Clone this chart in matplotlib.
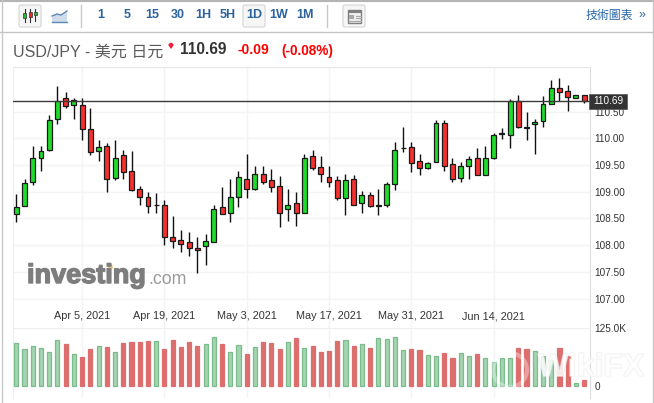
import matplotlib
matplotlib.use("Agg")
import matplotlib.pyplot as plt
import matplotlib.patheffects as pe
from matplotlib.patches import Rectangle, FancyBboxPatch, Polygon, Circle

W, H = 654, 403

opens = [108.58, 108.73, 109.18, 109.64, 109.79, 110.36, 110.75, 110.62, 110.62, 110.17,
         109.76, 109.85, 109.25, 109.68, 109.38, 109.06, 108.91, 108.76, 108.76, 108.15,
         108.09, 108.05, 107.94, 107.98, 108.05, 108.72, 108.60, 108.91, 109.24, 109.06,
         109.34, 109.21, 109.10, 108.67, 108.78, 108.60, 109.66, 109.46, 109.27, 109.21,
         108.88, 109.23, 108.78, 108.93, 108.73, 108.76, 109.14, 109.81, 109.83, 109.57,
         109.45, 109.55, 110.28, 109.51, 109.25, 109.49, 109.63, 109.31, 109.64, 110.08,
         110.07, 110.69, 110.21, 110.27, 110.32, 110.64, 110.95, 110.88, 110.75, 110.82]
highs = [108.96, 109.24, 109.86, 109.86, 110.43, 110.98, 110.87, 110.75, 110.75, 110.56,
         109.96, 109.91, 109.96, 109.78, 109.76, 109.10, 108.99, 108.97, 108.84, 108.54,
         108.28, 108.24, 108.15, 108.20, 108.76, 109.08, 109.23, 109.38, 109.71, 109.49,
         109.48, 109.42, 109.29, 109.06, 108.99, 109.70, 109.79, 109.66, 109.49, 109.29,
         109.34, 109.31, 109.01, 108.99, 109.06, 109.18, 109.93, 110.21, 109.94, 109.70,
         109.55, 110.34, 110.34, 109.64, 109.55, 109.66, 109.81, 109.85, 110.09, 110.19,
         110.73, 110.82, 110.49, 110.36, 110.80, 111.10, 111.12, 110.99, 110.82, 110.82]
lows = [108.44, 108.73, 109.13, 109.38, 109.77, 110.27, 110.56, 110.37, 109.97, 109.68,
        109.58, 109.00, 109.21, 109.24, 109.02, 108.76, 108.61, 108.61, 108.01, 107.95,
        107.88, 107.80, 107.47, 107.63, 108.05, 108.58, 108.44, 108.72, 108.89, 109.04,
        109.15, 109.00, 108.33, 108.46, 108.35, 108.60, 109.41, 109.19, 109.08, 108.84,
        108.57, 108.75, 108.61, 108.71, 108.57, 108.72, 109.04, 109.75, 109.36, 109.32,
        109.43, 109.55, 109.38, 109.19, 109.19, 109.23, 109.31, 109.31, 109.61, 109.99,
        109.81, 110.19, 109.96, 109.71, 110.22, 110.64, 110.69, 110.51, 110.75, 110.67]
closes = [108.71, 109.16, 109.64, 109.77, 110.34, 110.69, 110.60, 110.71, 110.17, 109.74,
          109.83, 109.23, 109.64, 109.36, 109.04, 108.90, 108.73, 108.76, 108.15, 108.07,
          108.03, 107.94, 107.90, 108.07, 108.67, 108.58, 108.90, 109.27, 109.06, 109.33,
          109.18, 109.08, 108.60, 108.76, 108.60, 109.64, 109.44, 109.34, 109.18, 108.88,
          109.21, 108.75, 108.93, 108.73, 108.75, 109.14, 109.79, 109.81, 109.53, 109.44,
          109.53, 110.28, 109.49, 109.23, 109.49, 109.61, 109.31, 109.64, 110.06, 110.09,
          110.69, 110.21, 110.19, 110.30, 110.64, 110.94, 110.86, 110.77, 110.82, 110.69]
volumes = [91.8, 78.8, 85.3, 80.9, 72.3, 98.3, 89.6, 67.9, 61.4, 78.8,
           85.3, 83.1, 72.3, 91.8, 93.9, 93.9, 96.1, 96.1, 78.8, 98.3,
           83.1, 93.9, 85.3, 89.6, 104.8, 89.6, 72.3, 87.4, 67.9, 83.1,
           93.9, 91.8, 78.8, 93.9, 102.6, 80.9, 85.3, 72.3, 74.4, 96.1,
           98.3, 85.3, 89.6, 80.9, 102.6, 100.4, 104.8, 76.6, 78.8, 76.6,
           65.7, 63.6, 70.1, 59.2, 70.1, 63.6, 67.9, 59.2, 50.6, 59.2,
           59.2, 80.9, 78.8, 74.4, 63.6, 54.9, 80.9, 63.6, 5.1, 11.6]

last_price = 110.69
price_ticks = [107.00, 107.50, 108.00, 108.50, 109.00, 109.50, 110.00, 110.50]
date_pos = [8, 18, 28, 38, 48, 58]
date_labels = ["Apr 5, 2021", "Apr 19, 2021", "May 3, 2021", "May 17, 2021", "May 31, 2021", "Jun 14, 2021"]
periods = ["1", "5", "15", "30", "1H", "5H", "1D", "1W", "1M"]
period_x = [101, 127, 152, 178, 203, 228, 254, 279, 305]

GREEN = "#1fdc2a"
RED = "#f72f2f"
FONT = ["Liberation Sans", "Noto Sans CJK TC"]

plt.rcParams["font.family"] = FONT

fig = plt.figure(figsize=(W / 100, H / 100), dpi=100)

# page furniture, in pixels
bg = fig.add_axes([0, 0, 1, 1], zorder=0)
bg.set_xlim(0, W)
bg.set_ylim(H, 0)
bg.axis("off")


def ax_rect(x0, y0, x1, y1):
    return [x0 / W, 1 - y1 / H, (x1 - x0) / W, (y1 - y0) / H]


def button(x0, x1):
    bg.add_patch(FancyBboxPatch((x0 + 1, 6), x1 - x0 - 2, 20, boxstyle="round,pad=1,rounding_size=2",
                                fc="#f6f6f6", ec="#dcdcdc", lw=1))


bg.plot([0, W], [0.5, 0.5], color="#b4b4b4", lw=1.5)
bg.plot([0, 652], [31.5, 31.5], color="#c4c4c4", lw=1)
bg.plot([1.5, 1.5], [0, H], color="#c8c8c8", lw=1)
bg.plot([652.5, 652.5], [0, H], color="#c8c8c8", lw=1)
for x in [80.5, 326.5]:
    bg.plot([x, x], [5, 27], color="#c8c8c8", lw=1)

button(19, 41)
button(243, 265)
button(343, 365)

# candle icon
for x, y0, y1, b0, b1, c in [(24.5, 9, 22, 13, 18, "#1fc02a"), (30, 9, 22, 12, 17, "#e82c2c"), (35, 9, 21, 12, 15, "#1fc02a")]:
    bg.plot([x, x], [y0, y1], color="#333333", lw=0.8)
    bg.add_patch(Rectangle((x - 1.5, b0), 3, b1 - b0, fc=c, ec="#333333", lw=0.5, zorder=3))

# line icon
bg.add_patch(Polygon([(52, 16), (57, 14), (61, 15), (67, 11), (67, 22), (52, 22)], fc="#cfdcea", ec="none"))
bg.plot([52, 57, 61, 67], [16, 14, 15, 11], color="#5c88b5", lw=1)
bg.plot([52, 67], [22, 22], color="#5c88b5", lw=1)

# layout icon
bg.add_patch(Rectangle((348, 10), 13, 13, fc="#eeeeee", ec="#808080", lw=1))
bg.add_patch(Rectangle((349, 10), 12, 3, fc="#808080", ec="none"))
bg.add_patch(Rectangle((349, 15), 5, 4, fc="#a8a8a8", ec="none"))
for y in [15.5, 18, 20.5]:
    bg.plot([356, 361], [y, y], color="#a8a8a8", lw=0.8)
bg.plot([349, 361], [21, 21], color="#a8a8a8", lw=0.8)

for label, x in zip(periods, period_x):
    bg.text(x, 15.5, label, ha="center", va="center", fontsize=9, color="#2b639c", fontweight="bold")

bg.text(586, 15.5, "技術圖表", ha="left", va="center", fontsize=8.6, color="#2a66a8")
bg.text(642, 15, "»", ha="center", va="center", fontsize=9, color="#2a66a8")

# title row
bg.text(13, 52, "USD/JPY - 美元 日元", ha="left", va="center", fontsize=11.5, color="#5a5a5a")
bg.add_patch(Polygon([(168.5, 44), (171, 42.5), (173.5, 44), (173.5, 45.5), (171, 49), (168.5, 45.5)], fc="#f0203a", ec="none"))
bg.text(180, 50, "110.69", ha="left", va="center", fontsize=11.2, color="#333333", fontweight="bold")
bg.text(238, 50.5, "-0.09", ha="left", va="center", fontsize=10, color="#ff0000", fontweight="bold")
bg.text(281, 50.5, "(-0.08%)", ha="left", va="center", fontsize=9.8, color="#ff0000", fontweight="bold")

# price panel
ax = fig.add_axes(ax_rect(13, 67, 589.5, 328), zorder=2)
ax.patch.set_alpha(0)
ax.set_xlim(-0.4, 69.65)
ax.set_ylim(106.448, 111.335)
x_pos = list(range(len(opens)))
up = [c >= o for o, c in zip(opens, closes)]
ax.vlines(x_pos, lows, highs, color="#111111", lw=1, zorder=3)
ax.bar(x_pos, [abs(c - o) for o, c in zip(opens, closes)], bottom=[min(o, c) for o, c in zip(opens, closes)],
       width=0.6, color=[GREEN if u else RED for u in up], edgecolor="#1a1a1a", lw=0.9, zorder=4)
ax.axhline(last_price, color="#3a3a3a", lw=1, zorder=5)
ax.set_yticks(price_ticks)
ax.set_yticklabels(["%.2f" % p for p in price_ticks])
ax.yaxis.tick_right()
ax.set_xticks(date_pos)
ax.set_xticklabels(date_labels)
ax.tick_params(axis="y", length=0, pad=3.5, labelsize=7.2, labelcolor="#333333")
ax.tick_params(axis="x", length=0, pad=-12, labelsize=7.8, labelcolor="#333333")
ax.grid(True, color="#f4f4f4", lw=1)
ax.set_axisbelow(True)
ax.spines["bottom"].set_visible(False)
ax.spines["top"].set_color("#e6e6e6")
ax.spines["right"].set_color("#dcdcdc")
ax.spines["left"].set_color("#eeeeee")

# volume panel
vol = fig.add_axes(ax_rect(13, 328, 589.5, 397.7), zorder=2)
vol.patch.set_alpha(0)
vol.set_xlim(-0.4, 69.65)
vol.set_ylim(-26, 125)
vol.bar(x_pos, volumes, width=0.5, color=["#a4d4b0" if u else "#dc6e6e" for u in up],
        edgecolor=["#7cbb8c" if u else "#dc6e6e" for u in up], lw=0.9, zorder=3)
vol.yaxis.tick_right()
vol.set_yticks([0, 125])
vol.set_yticklabels(["0", "125.0K"])
vol.set_xticks(date_pos)
vol.tick_params(axis="x", length=0, labelbottom=False)
vol.tick_params(axis="y", length=0, pad=3.5, labelsize=7.2, labelcolor="#333333")
vol.grid(axis="x", color="#f4f4f4", lw=1)
vol.set_axisbelow(True)
vol.spines["bottom"].set_visible(False)
vol.spines["top"].set_color("#eeeeee")
vol.spines["right"].set_color("#dcdcdc")
vol.spines["left"].set_color("#eeeeee")

# overlay: price tag, logo and watermark
top = fig.add_axes([0, 0, 1, 1], zorder=5)
top.set_xlim(0, W)
top.set_ylim(H, 0)
top.axis("off")
top.patch.set_alpha(0)
top.add_patch(Rectangle((589, 94), 38, 15, fc="#333333", ec="#555555", lw=0.5))
top.text(608, 101.5, "%.2f" % last_price, ha="center", va="center", fontsize=7.2, color="white")

logo = top.text(27, 276, "investing", ha="left", va="center", fontsize=19.5, color="#7d7d7d", fontweight="bold")
logo.set_path_effects([pe.withStroke(linewidth=1, foreground="#7d7d7d")])
top.text(148, 279, ".com", ha="left", va="center", fontsize=12.8, color="#9a9a9a")
top.add_patch(Polygon([(108, 266), (112, 264), (113, 268), (109, 270)], fc="#f2c078", ec="none"))

top.add_patch(Circle((510, 370), 17, fc="none", ec="white", lw=3, alpha=0.35))
mark = top.text(538, 368, "WikiFX", ha="left", va="center", fontsize=23, color="white", fontweight="bold", alpha=0.45)
mark.set_path_effects([pe.withStroke(linewidth=1.2, foreground="#f0f0f0", alpha=0.7)])

fig.savefig("out.png", dpi=100)
